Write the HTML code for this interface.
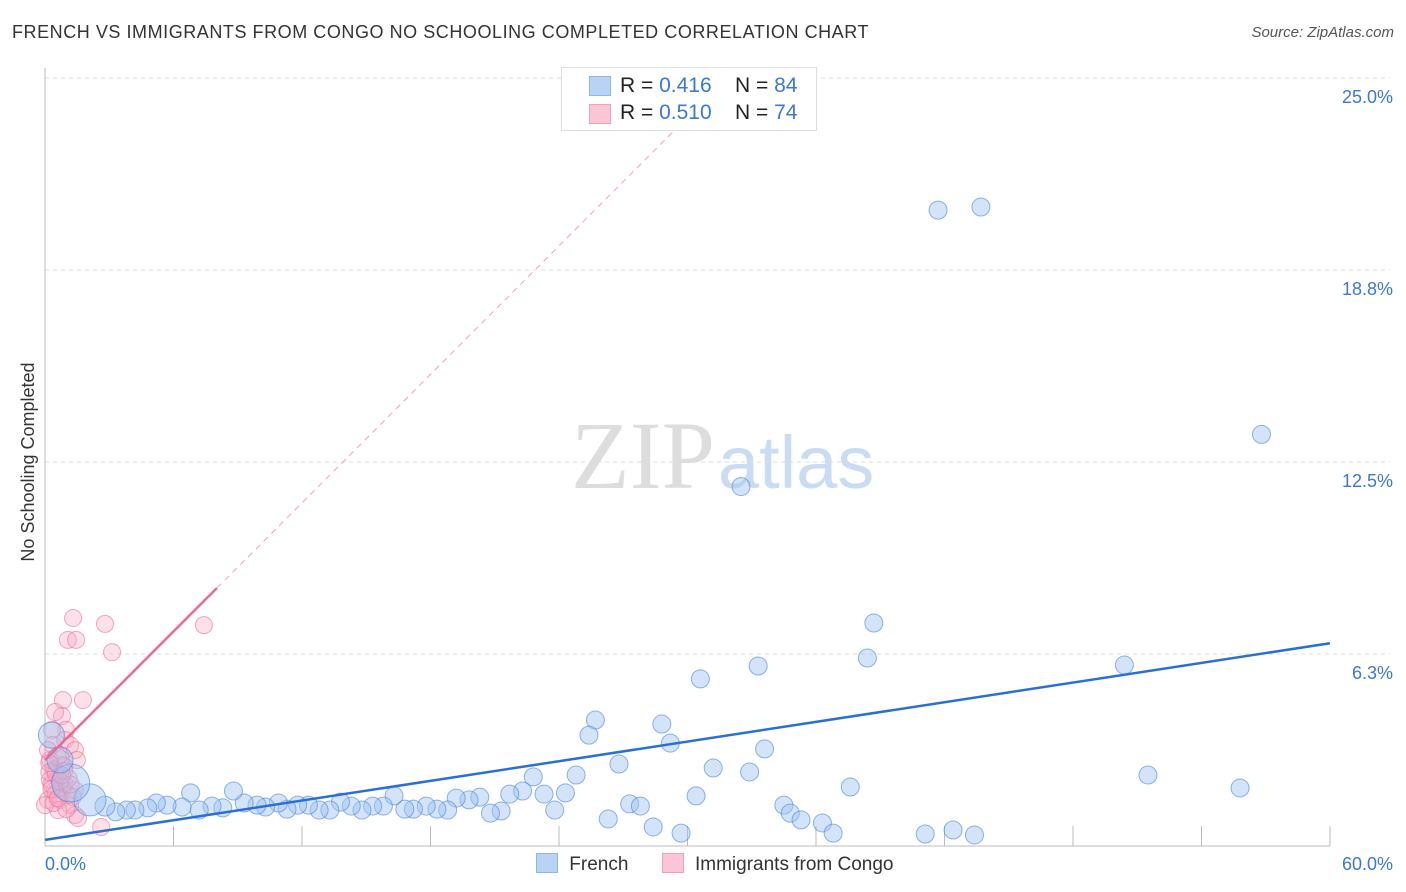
<!DOCTYPE html>
<html><head><meta charset="utf-8"><style>
body{margin:0;background:#fff;font-family:"Liberation Sans",sans-serif;}
#wrap{position:relative;width:1406px;height:892px;overflow:hidden;}
.t{position:absolute;white-space:nowrap;}
</style></head><body>
<div id="wrap">
<div class="t" style="left:12px;top:22px;font-size:18px;letter-spacing:0.55px;color:#333;">FRENCH VS IMMIGRANTS FROM CONGO NO SCHOOLING COMPLETED CORRELATION CHART</div>
<div class="t" style="right:12px;top:24px;font-size:15px;color:#555;font-style:italic;">Source: ZipAtlas.com</div>
<svg id="svg" width="1406" height="892" style="position:absolute;left:0;top:0">
<text x="28" y="456" transform="rotate(-90 34 456)" font-size="18" fill="#333" text-anchor="middle" font-family="Liberation Sans">No Schooling Completed</text>
<text x="715" y="488" text-anchor="end" font-size="96" font-family="Liberation Serif" fill="#ddd">ZIP</text>
<text x="718" y="488" font-size="74" font-family="Liberation Sans" fill="#c9dcf3">atlas</text>
</svg>
<div class="t" style="left:561px;top:67px;width:254px;height:62px;border:1px solid #ddd;background:#fff;font-size:21px;color:#222;">
 <div style="position:absolute;left:27px;top:8px;width:20px;height:18px;background:#b9d3f5;border:1px solid #8fb4e6"></div>
 <div style="position:absolute;left:58px;top:6px">R = <span style="color:#3a78d4">0.416</span>&nbsp;&nbsp;&nbsp; N = <span style="color:#3a78d4">84</span></div>
 <div style="position:absolute;left:27px;top:36px;width:20px;height:18px;background:#fac6d5;border:1px solid #f0a0b8"></div>
 <div style="position:absolute;left:58px;top:33px">R = <span style="color:#3a78d4">0.510</span>&nbsp;&nbsp;&nbsp; N = <span style="color:#3a78d4">74</span></div>
</div>
<div class="t" style="left:536px;top:853px;font-size:19px;color:#333;">
 <span style="display:inline-block;width:20px;height:18px;background:#b9d3f5;border:1px solid #8fb4e6;vertical-align:-3px"></span> <span style="margin-left:6px">French</span>
 <span style="display:inline-block;width:20px;height:18px;background:#fac6d5;border:1px solid #f0a0b8;vertical-align:-3px;margin-left:28px"></span> <span style="margin-left:6px">Immigrants from Congo</span>
</div>
</div>
<script>
const yTicks=[6.25,12.5,18.75,25];
const yTickLabels=["6.3%","12.5%","18.8%","25.0%"];
const xLabels=["0.0%","60.0%"];
const frenchX=[41.7,43.7,56.8,32.5,38.7,38.4,33.3,50.4,30.6,25.7,25.4,28.8,29.2,33.6,31.2,32.9,26.8,51.5,24.8,22.8,37.6,55.8,30.4,34.5,34.8,35.3,27.3,27.8,26.3,28.4,29.7,36.3,36.8,41.1,42.4,43.4,24.3,23.3,22.3,21.7,20.3,19.8,19.2,23.8,21.3,20.8,18.8,18.3,17.8,17.2,16.8,16.3,15.8,15.3,14.8,14.3,13.8,13.3,12.8,12.3,11.8,11.3,10.9,10.3,9.9,9.3,8.8,8.3,7.8,7.2,6.8,6.4,5.7,5.2,4.8,4.2,3.8,3.3,2.8,2.1,1.2,0.3,0.7];
const frenchY=[20.7,20.8,13.4,11.7,7.26,6.12,5.86,5.89,5.44,4.10,3.61,3.97,3.35,3.16,2.54,2.41,2.67,2.31,2.31,2.25,1.92,1.89,1.63,1.33,1.07,0.85,1.37,1.30,0.88,0.62,0.42,0.75,0.42,0.39,0.52,0.36,1.73,1.69,1.79,1.69,1.59,1.50,1.56,1.17,1.14,1.07,1.17,1.20,1.30,1.20,1.20,1.63,1.30,1.30,1.17,1.30,1.43,1.17,1.17,1.33,1.33,1.20,1.40,1.27,1.33,1.40,1.79,1.24,1.30,1.17,1.73,1.27,1.33,1.40,1.24,1.17,1.17,1.11,1.30,1.50,2.05,3.61,2.80];
const frenchSize=[9,9,9,9,9,9,9,9,9,9,9,9,9,9,9,9,9,9,9,9,9,9,9,9,9,9,9,9,9,9,9,9,9,9,9,9,9,9,9,9,9,9,9,9,9,9,9,9,9,9,9,9,9,9,9,9,9,9,9,9,9,9,9,9,9,9,9,9,9,9,9,9,9,9,9,9,9,9,10,16,19,13,13];
const congoX=[1.31,2.80,7.42,1.07,1.45,3.13,0.84,1.77,0.79,0.47,0.98,0.93,0.70,1.17,1.40,1.49,0.23,0.47,0.70,0.23,0.93,0.47,1.40,0.14,0.70,1.17,0.61,1.40,1.54,2.62,0.33,0.37,0.14,0.79,1.07,0,0.4,0.6,0.3,0.9,0.5,1.1,0.2,0.8,0.6,1.3,0.4,1.0,0.5,0.7,0.3,0.9,0.6,0.2,1.2,0.8];
const congoY=[7.42,7.23,7.19,6.71,6.71,6.31,4.75,4.75,4.23,4.36,3.78,3.45,2.96,3.29,3.12,2.80,2.80,2.47,2.31,2.15,1.99,1.82,1.82,1.50,1.50,1.33,1.17,1.01,0.91,0.62,3.78,3.29,3.12,2.64,1.66,1.33,2.5,2.2,2.0,2.6,1.7,2.2,2.4,1.9,2.9,1.6,1.4,1.2,2.35,2.1,1.85,2.45,1.55,2.7,2.0,2.3];
const frenchFit=[0.2,6.6];
const congoFit=[2.8,8.4,25];
const congoSolidEnd=8.03;
const X0=45,X1=1330,Y0=846,PXY=30.72;
const sx=v=>X0+(v/60)*(X1-X0);
const sy=v=>Y0-v*PXY;
const svg=document.getElementById('svg');
const NS='http://www.w3.org/2000/svg';
function mk(tag,attrs){const e=document.createElementNS(NS,tag);for(const k in attrs)e.setAttribute(k,attrs[k]);svg.appendChild(e);return e;}
yTicks.forEach((t,i)=>{
 const g=mk('line',{x1:X0,x2:X1+60,y1:sy(t),y2:sy(t),stroke:'#ddd','stroke-dasharray':'4,4'});
 
 
 const l=mk('text',{x:1393,y:sy(t)+25,'text-anchor':'end','font-size':18,fill:'#3a78d4','font-family':'Liberation Sans'});
 l.textContent=yTickLabels[i];
 
 
});
const ax=mk('line',{x1:X0,x2:X0,y1:68,y2:Y0,stroke:'#bbb'});


const bx=mk('line',{x1:X0,x2:X1,y1:Y0,y2:Y0,stroke:'#bbb'});


for(let i=1;i<=10;i++){
 const tk=mk('line',{x1:sx(i*6),x2:sx(i*6),y1:Y0-20,y2:Y0,stroke:'#bbb'});
 
 
}
[[0,'start',X0],[60,'end',1393]].forEach((d,i)=>{
 const l=mk('text',{x:d[2],y:870,'text-anchor':d[1],'font-size':18,fill:'#3a78d4','font-family':'Liberation Sans'});
 l.textContent=xLabels[i];
 
 
});
congoX.forEach((x,i)=>{
 const c=mk('circle',{cx:sx(x),cy:sy(congoY[i]),r:8.5,fill:'rgba(248,170,195,0.35)',stroke:'rgba(236,110,150,0.6)','stroke-width':1});
 
 
});
frenchX.forEach((x,i)=>{
 const c=mk('circle',{cx:sx(x),cy:sy(frenchY[i]),r:frenchSize[i],fill:'rgba(160,195,240,0.45)',stroke:'rgba(70,130,220,0.6)','stroke-width':1});
 
 
});
const slope=(congoFit[1]-congoFit[0])/congoSolidEnd;
const xEnd=(congoFit[2]-congoFit[0])/slope;
const cd=mk('line',{x1:sx(congoSolidEnd),y1:sy(congoFit[1]),x2:sx(xEnd),y2:sy(congoFit[2]),stroke:'#f0a0b8','stroke-width':1,'stroke-dasharray':'6,5'});


const cl=mk('line',{x1:sx(0),y1:sy(congoFit[0]),x2:sx(congoSolidEnd),y2:sy(congoFit[1]),stroke:'#ec6a92','stroke-width':2.5});


const fl=mk('line',{x1:sx(0),y1:sy(frenchFit[0]),x2:sx(60),y2:sy(frenchFit[1]),stroke:'#2a6fd6','stroke-width':2.5});


</script>
</body></html>
